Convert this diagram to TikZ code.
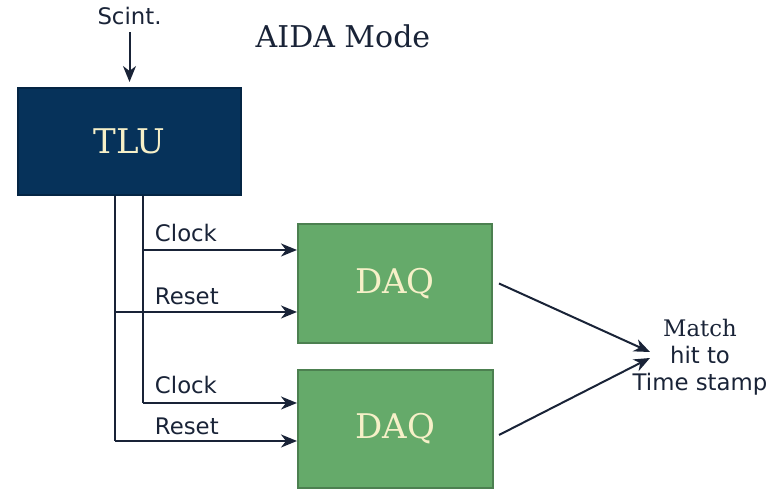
\documentclass[tikz,border=0pt]{standalone}
\usepackage{fontspec}
\setmainfont{DejaVu Sans}
\newfontfamily\serifface{DejaVu Serif}
\usepackage{xcolor}
\usetikzlibrary{arrows.meta}

\definecolor{tlublue}{RGB}{6,50,90}
\definecolor{daqgreen}{RGB}{101,170,106}
\definecolor{boxtext}{RGB}{246,240,200}
\definecolor{wire}{RGB}{25,35,55}

\tikzset{
  unit/.style={rectangle, draw=#1!75!black, fill=#1, text=boxtext,
               font=\serifface\fontsize{17}{20}\selectfont, inner sep=0pt},
  sig/.style={font=\fontsize{11.4}{13.5}\selectfont, text=wire, anchor=base west, inner sep=0pt}
}

\begin{document}
\begin{tikzpicture}[x=0.5pt, y=-0.5pt, ->, >={Stealth[length=8pt,width=6.5pt,inset=2.5pt]},
                    line width=1pt, color=wire]
  \useasboundingbox (0,0) rectangle (778,490);

  \node[font=\serifface\fontsize{15}{18}\selectfont] (title) at (343,36) {AIDA Mode};
  \node[font=\fontsize{11.4}{13.5}\selectfont]       (scint) at (129.5,16) {Scint.};

  \node[unit=tlublue,  minimum width=111.5pt, minimum height=53.5pt] (tlu)  at (129.5,141.5) {TLU};
  \node[unit=daqgreen, minimum width=97pt,    minimum height=59.5pt] (daq1) at (395,283.5)   {DAQ};
  \node[unit=daqgreen, minimum width=97.5pt,  minimum height=59pt]   (daq2) at (395.5,429)    {DAQ};

  \node[font=\fontsize{11.4}{13.5}\selectfont, align=center] (match) at (700,357)
    {{\serifface Match}\\hit to\\Time stamp};

  % branch points of the clock and reset lines
  \coordinate (clkA) at (143,250);
  \coordinate (clkB) at (143,403);
  \coordinate (rstA) at (115,312);
  \coordinate (rstB) at (115,441);
  \coordinate (inA)  at (650,352);
  \coordinate (inB)  at (650,358);

  \draw[shorten >=2.5pt] (scint) -- (tlu);

  \draw[-] (tlu.south -| clkB) -- (clkB);
  \draw (clkB) -- (daq2.west |- clkB);
  \draw (clkA) -- (daq1.west |- clkA);
  \draw[-] (tlu.south -| rstB) -- (rstB);
  \draw (rstB) -- (daq2.west |- rstB);
  \draw (rstA) -- (daq1.west |- rstA);

  \node[sig] (lclkA) at (154,242) {Clock};
  \node[sig] (lrstA) at (154,305) {Reset};
  \node[sig] (lclkB) at (154,394) {Clock};
  \node[sig] (lrstB) at (154,435) {Reset};

  \draw ([xshift=3pt]daq1.east) -- (inA);
  \draw ([xshift=2.5pt,yshift=-3pt]daq2.east) -- (inB);
\end{tikzpicture}
\end{document}
